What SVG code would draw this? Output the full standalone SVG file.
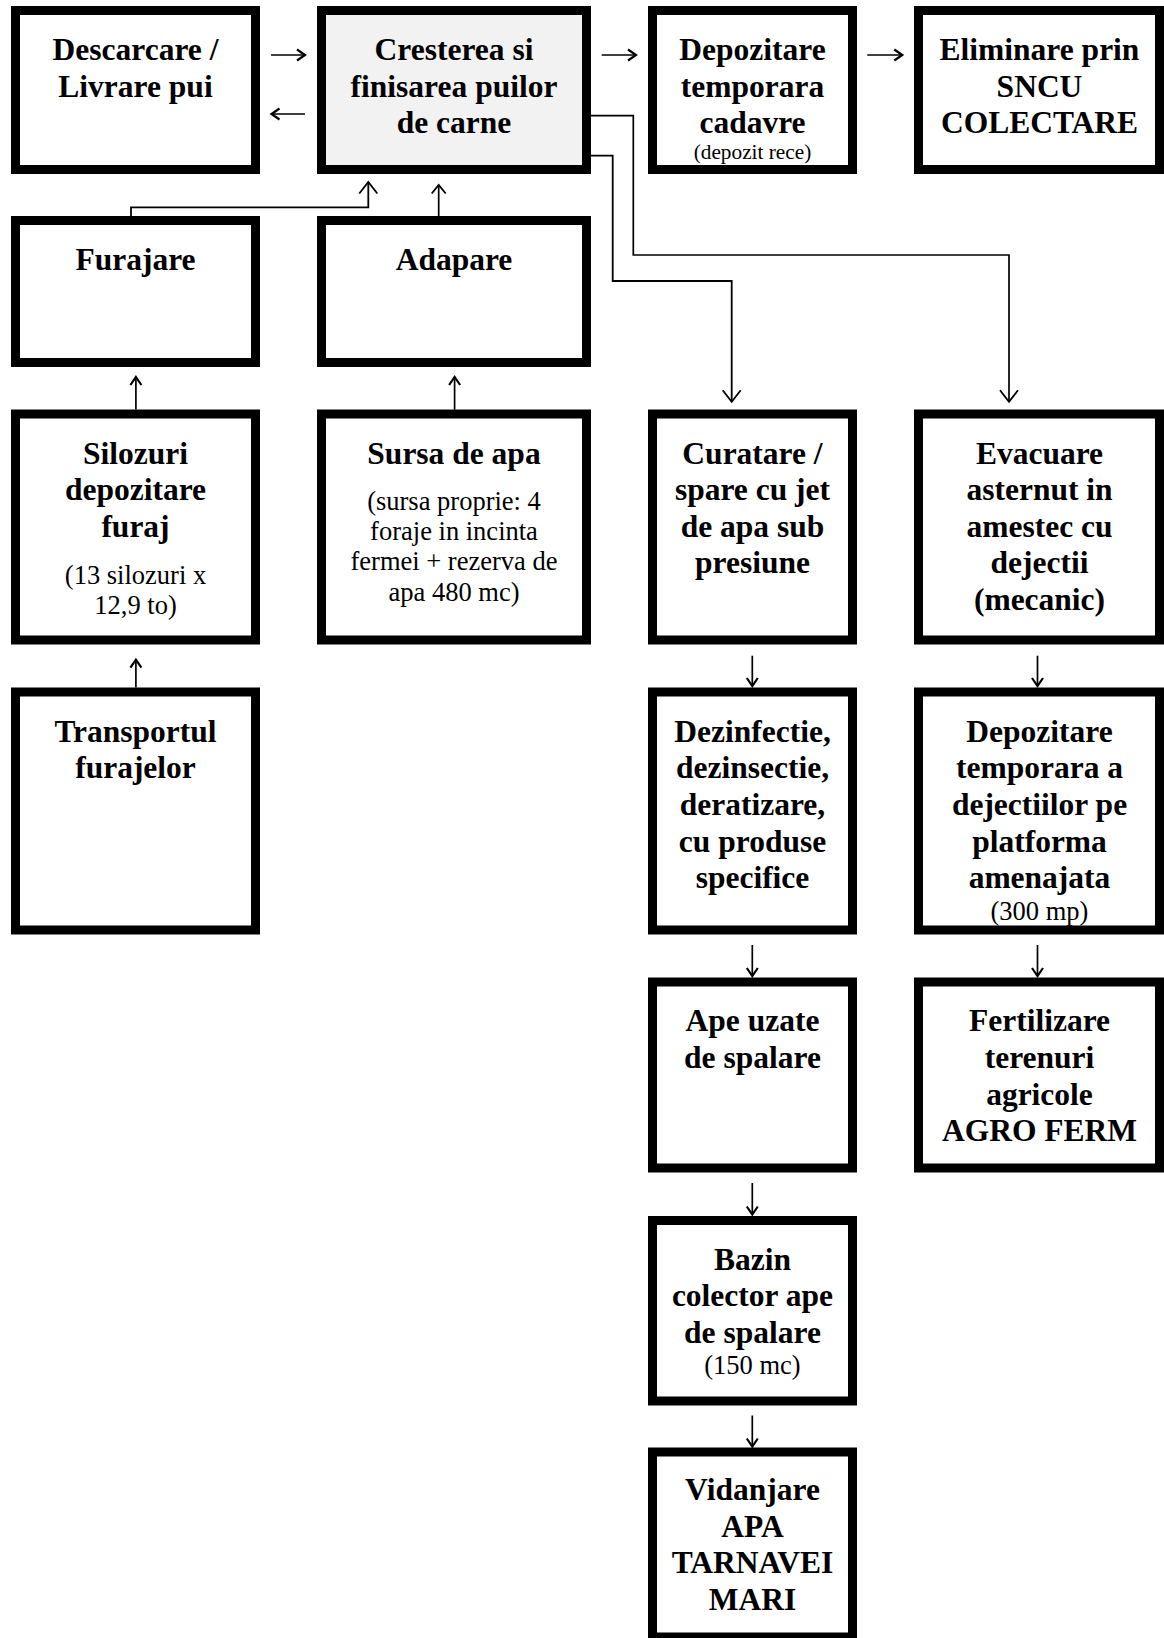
<svg xmlns="http://www.w3.org/2000/svg" width="1164" height="1638" viewBox="0 0 1164 1638">
<style>
.box{fill:#ffffff;stroke:#000000;stroke-width:9}
.main{fill:#f2f2f2}
.t{font-family:"Liberation Serif","Times New Roman",serif;font-weight:bold;font-size:31.5px;text-anchor:middle;fill:#000}
.s{font-family:"Liberation Serif","Times New Roman",serif;font-size:26.5px;text-anchor:middle;fill:#000}
.xs{font-family:"Liberation Serif","Times New Roman",serif;font-size:21.3px;text-anchor:middle;fill:#000}
.g{fill:none;stroke:#000;stroke-width:1.7}
.c{fill:none;stroke:#000;stroke-width:1.8}
</style>
<defs>
<marker id="ah" markerUnits="userSpaceOnUse" viewBox="-14 -12 16 24" refX="0" refY="0" markerWidth="16" markerHeight="24" orient="auto" overflow="visible">
<path d="M-8,-5.5 L0,0 L-8,5.5" fill="none" stroke="#000" stroke-width="2.2"/>
</marker>
<marker id="ahm" markerUnits="userSpaceOnUse" viewBox="-14 -12 16 24" refX="0" refY="0" markerWidth="16" markerHeight="24" orient="auto" overflow="visible">
<path d="M-8.5,-7 L0,0 L-8.5,7" fill="none" stroke="#000" stroke-width="1.8"/>
</marker>
<marker id="ahb" markerUnits="userSpaceOnUse" viewBox="-14 -12 16 24" refX="0" refY="0" markerWidth="16" markerHeight="24" orient="auto" overflow="visible">
<path d="M-11.5,-9 L0,0 L-11.5,9" fill="none" stroke="#000" stroke-width="1.8"/>
</marker>
</defs>

<g id="connectors">
<path class="g" d="M271,55 H305" marker-end="url(#ah)"/>
<path class="g" d="M305,114 H271.5" marker-end="url(#ah)"/>
<path class="g" d="M601.7,55 H636" marker-end="url(#ah)"/>
<path class="g" d="M867.3,55 H902.3" marker-end="url(#ah)"/>
<path class="c" d="M131,216 V207.3 H368.3 V182" marker-end="url(#ahb)"/>
<path class="g" d="M438.7,216 V185" marker-end="url(#ahm)"/>
<path class="g" d="M135.9,409.6 V377" marker-end="url(#ah)"/>
<path class="g" d="M454.6,409.6 V377" marker-end="url(#ah)"/>
<path class="g" d="M135.9,687.5 V659.6" marker-end="url(#ah)"/>
<path class="c" d="M591,155.7 H612.7 V281 H731.7 V401.7" marker-end="url(#ahb)"/>
<path class="g" d="M591,115.7 H633.3 V255 H1009 V401.7" marker-end="url(#ahb)"/>
<path class="g" d="M752.3,655.7 V686" marker-end="url(#ah)"/>
<path class="g" d="M1037.5,655.7 V686" marker-end="url(#ah)"/>
<path class="g" d="M752.3,945 V976" marker-end="url(#ah)"/>
<path class="g" d="M1037.5,945 V976" marker-end="url(#ah)"/>
<path class="g" d="M752.3,1183 V1214.5" marker-end="url(#ah)"/>
<path class="g" d="M752.3,1415.5 V1446.5" marker-end="url(#ah)"/>
</g>

<g id="descarcare">
<rect class="box" x="15.5" y="10.5" width="240" height="159"/>
<text class="t" x="135.5" y="60">Descarcare /</text>
<text class="t" x="135.5" y="96.7">Livrare pui</text>
</g>

<g id="cresterea">
<rect class="box main" x="321.5" y="10.5" width="265" height="159"/>
<text class="t" x="454" y="60">Cresterea si</text>
<text class="t" x="454" y="96.7">finisarea puilor</text>
<text class="t" x="454" y="133.4">de carne</text>
</g>

<g id="depozitare-cadavre">
<rect class="box" x="652.5" y="10.5" width="200" height="159"/>
<text class="t" x="752.5" y="60">Depozitare</text>
<text class="t" x="752.5" y="96.7">temporara</text>
<text class="t" x="752.5" y="133.4">cadavre</text>
<text class="xs" x="752.5" y="159.3">(depozit rece)</text>
</g>

<g id="eliminare">
<rect class="box" x="918.5" y="10.5" width="241" height="159"/>
<text class="t" x="1039.5" y="60">Eliminare prin</text>
<text class="t" x="1039.5" y="96.7">SNCU</text>
<text class="t" x="1039.5" y="133.4">COLECTARE</text>
</g>

<g id="furajare">
<rect class="box" x="15.5" y="220.5" width="240" height="142"/>
<text class="t" x="135.5" y="270">Furajare</text>
</g>

<g id="adapare">
<rect class="box" x="321.5" y="220.5" width="265" height="142"/>
<text class="t" x="454" y="270">Adapare</text>
</g>

<g id="silozuri">
<rect class="box" x="15.5" y="414" width="240" height="226"/>
<text class="t" x="135.5" y="463.5">Silozuri</text>
<text class="t" x="135.5" y="500">depozitare</text>
<text class="t" x="135.5" y="536.7">furaj</text>
<text class="s" x="135.5" y="584">(13 silozuri x</text>
<text class="s" x="135.5" y="613.5">12,9 to)</text>
</g>

<g id="sursa-apa">
<rect class="box" x="321.5" y="414" width="265" height="226"/>
<text class="t" x="454" y="463.5">Sursa de apa</text>
<text class="s" x="454" y="509.6">(sursa proprie: 4</text>
<text class="s" x="454" y="540">foraje in incinta</text>
<text class="s" x="454" y="570.4">fermei + rezerva de</text>
<text class="s" x="454" y="600.8">apa 480 mc)</text>
</g>

<g id="curatare">
<rect class="box" x="652.5" y="414" width="200" height="226"/>
<text class="t" x="752.5" y="463.5">Curatare /</text>
<text class="t" x="752.5" y="500">spare cu jet</text>
<text class="t" x="752.5" y="536.7">de apa sub</text>
<text class="t" x="752.5" y="573.4">presiune</text>
</g>

<g id="evacuare">
<rect class="box" x="918.5" y="414" width="241" height="226"/>
<text class="t" x="1039.5" y="463.5">Evacuare</text>
<text class="t" x="1039.5" y="500">asternut in</text>
<text class="t" x="1039.5" y="536.7">amestec cu</text>
<text class="t" x="1039.5" y="573.4">dejectii</text>
<text class="t" x="1039.5" y="610">(mecanic)</text>
</g>

<g id="transportul">
<rect class="box" x="15.5" y="692" width="240" height="238"/>
<text class="t" x="135.5" y="741.8">Transportul</text>
<text class="t" x="135.5" y="778">furajelor</text>
</g>

<g id="dezinfectie">
<rect class="box" x="652.5" y="692" width="200" height="238"/>
<text class="t" x="752.5" y="741.5">Dezinfectie,</text>
<text class="t" x="752.5" y="778">dezinsectie,</text>
<text class="t" x="752.5" y="815">deratizare,</text>
<text class="t" x="752.5" y="851.7">cu produse</text>
<text class="t" x="752.5" y="888.4">specifice</text>
</g>

<g id="depozitare-dejectii">
<rect class="box" x="918.5" y="692" width="241" height="238"/>
<text class="t" x="1039.5" y="741.5">Depozitare</text>
<text class="t" x="1039.5" y="778">temporara a</text>
<text class="t" x="1039.5" y="815">dejectiilor pe</text>
<text class="t" x="1039.5" y="851.7">platforma</text>
<text class="t" x="1039.5" y="888.4">amenajata</text>
<text class="s" x="1039.5" y="919.6">(300 mp)</text>
</g>

<g id="ape-uzate">
<rect class="box" x="652.5" y="982" width="200" height="186"/>
<text class="t" x="752.5" y="1031.3">Ape uzate</text>
<text class="t" x="752.5" y="1068">de spalare</text>
</g>

<g id="fertilizare">
<rect class="box" x="918.5" y="982" width="241" height="186"/>
<text class="t" x="1039.5" y="1031.3">Fertilizare</text>
<text class="t" x="1039.5" y="1068">terenuri</text>
<text class="t" x="1039.5" y="1104.7">agricole</text>
<text class="t" x="1039.5" y="1141.4">AGRO FERM</text>
</g>

<g id="bazin">
<rect class="box" x="652.5" y="1220.5" width="200" height="180.5"/>
<text class="t" x="752.5" y="1269.5">Bazin</text>
<text class="t" x="752.5" y="1306">colector ape</text>
<text class="t" x="752.5" y="1343">de spalare</text>
<text class="s" x="752.5" y="1374">(150 mc)</text>
</g>

<g id="vidanjare">
<rect class="box" x="652.5" y="1452" width="200" height="185"/>
<text class="t" x="752.5" y="1500">Vidanjare</text>
<text class="t" x="752.5" y="1536.7">APA</text>
<text class="t" x="752.5" y="1573.4">TARNAVEI</text>
<text class="t" x="752.5" y="1610">MARI</text>
</g>
</svg>
